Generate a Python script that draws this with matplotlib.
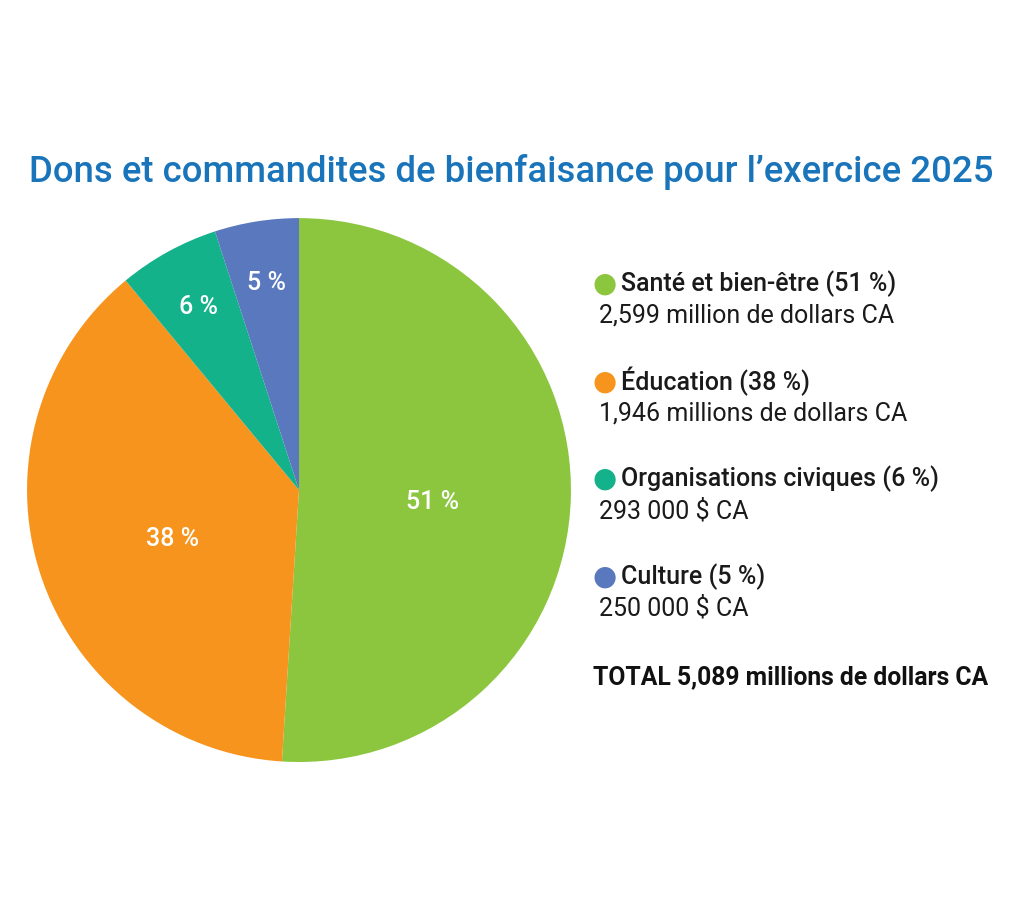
import matplotlib.pyplot as plt
import numpy as np

plt.rcParams['font.family'] = ['Roboto', 'DejaVu Sans']

categories = ['Santé et bien-être', 'Éducation', 'Organisations civiques', 'Culture']
percents = [51, 38, 6, 5]
amounts = ['2,599 million de dollars CA', '1,946 millions de dollars CA',
           '293 000 $ CA', '250 000 $ CA']
total_label = 'TOTAL 5,089 millions de dollars CA'
title = 'Dons et commandites de bienfaisance pour l\u2019exercice 2025'
colors = ['#8cc63f', '#f7941d', '#13b28b', '#5a78bd']

fig = plt.figure(figsize=(10.12, 9.05), dpi=100)
fig.patch.set_facecolor('white')

ax = fig.add_axes([0.0267, 0.158, 0.5375, 0.601])
wedges, _ = ax.pie(percents, colors=colors, startangle=90, counterclock=False,
                   radius=1, wedgeprops=dict(linewidth=0))
ax.set_xlim(-1, 1)
ax.set_ylim(-1, 1)
ax.set_aspect('equal')
ax.axis('off')

# percentage labels inside slices
for w, p in zip(wedges, percents):
    mid = np.deg2rad((w.theta1 + w.theta2) / 2)
    d = 0.49 if p > 20 else 0.77
    ax.text(d * np.cos(mid), d * np.sin(mid) - (0.03 if p > 20 else 0), f'{p} %',
            color='white', fontsize=18, fontweight='medium',
            ha='center', va='center')

fig.text(0.505, 1 - 172 / 905, title, color='#1a74ba', fontsize=26.3,
         fontweight='medium', ha='center', va='center')

# legend block
y0 = 284
step = 97.5
for i, (cat, p, amt, c) in enumerate(zip(categories, percents, amounts, colors)):
    y = y0 + i * step
    fig.text(605 / 1012, 1 - y / 905, '\u25cf', color=c, fontsize=20,
             ha='center', va='center', family='DejaVu Sans')
    fig.text(621 / 1012, 1 - y / 905, f'{cat} ({p} %)', fontsize=18,
             fontweight='medium', color='#1a1a1a', va='center', ha='left')
    fig.text(599 / 1012, 1 - (y + 32) / 905, amt, fontsize=18,
             color='#1a1a1a', va='center', ha='left')

fig.text(593 / 1012, 1 - 677 / 905, total_label, fontsize=17.8,
         fontweight='bold', color='#111111', va='center', ha='left')

fig.savefig('out.png', dpi=100, facecolor='white')
